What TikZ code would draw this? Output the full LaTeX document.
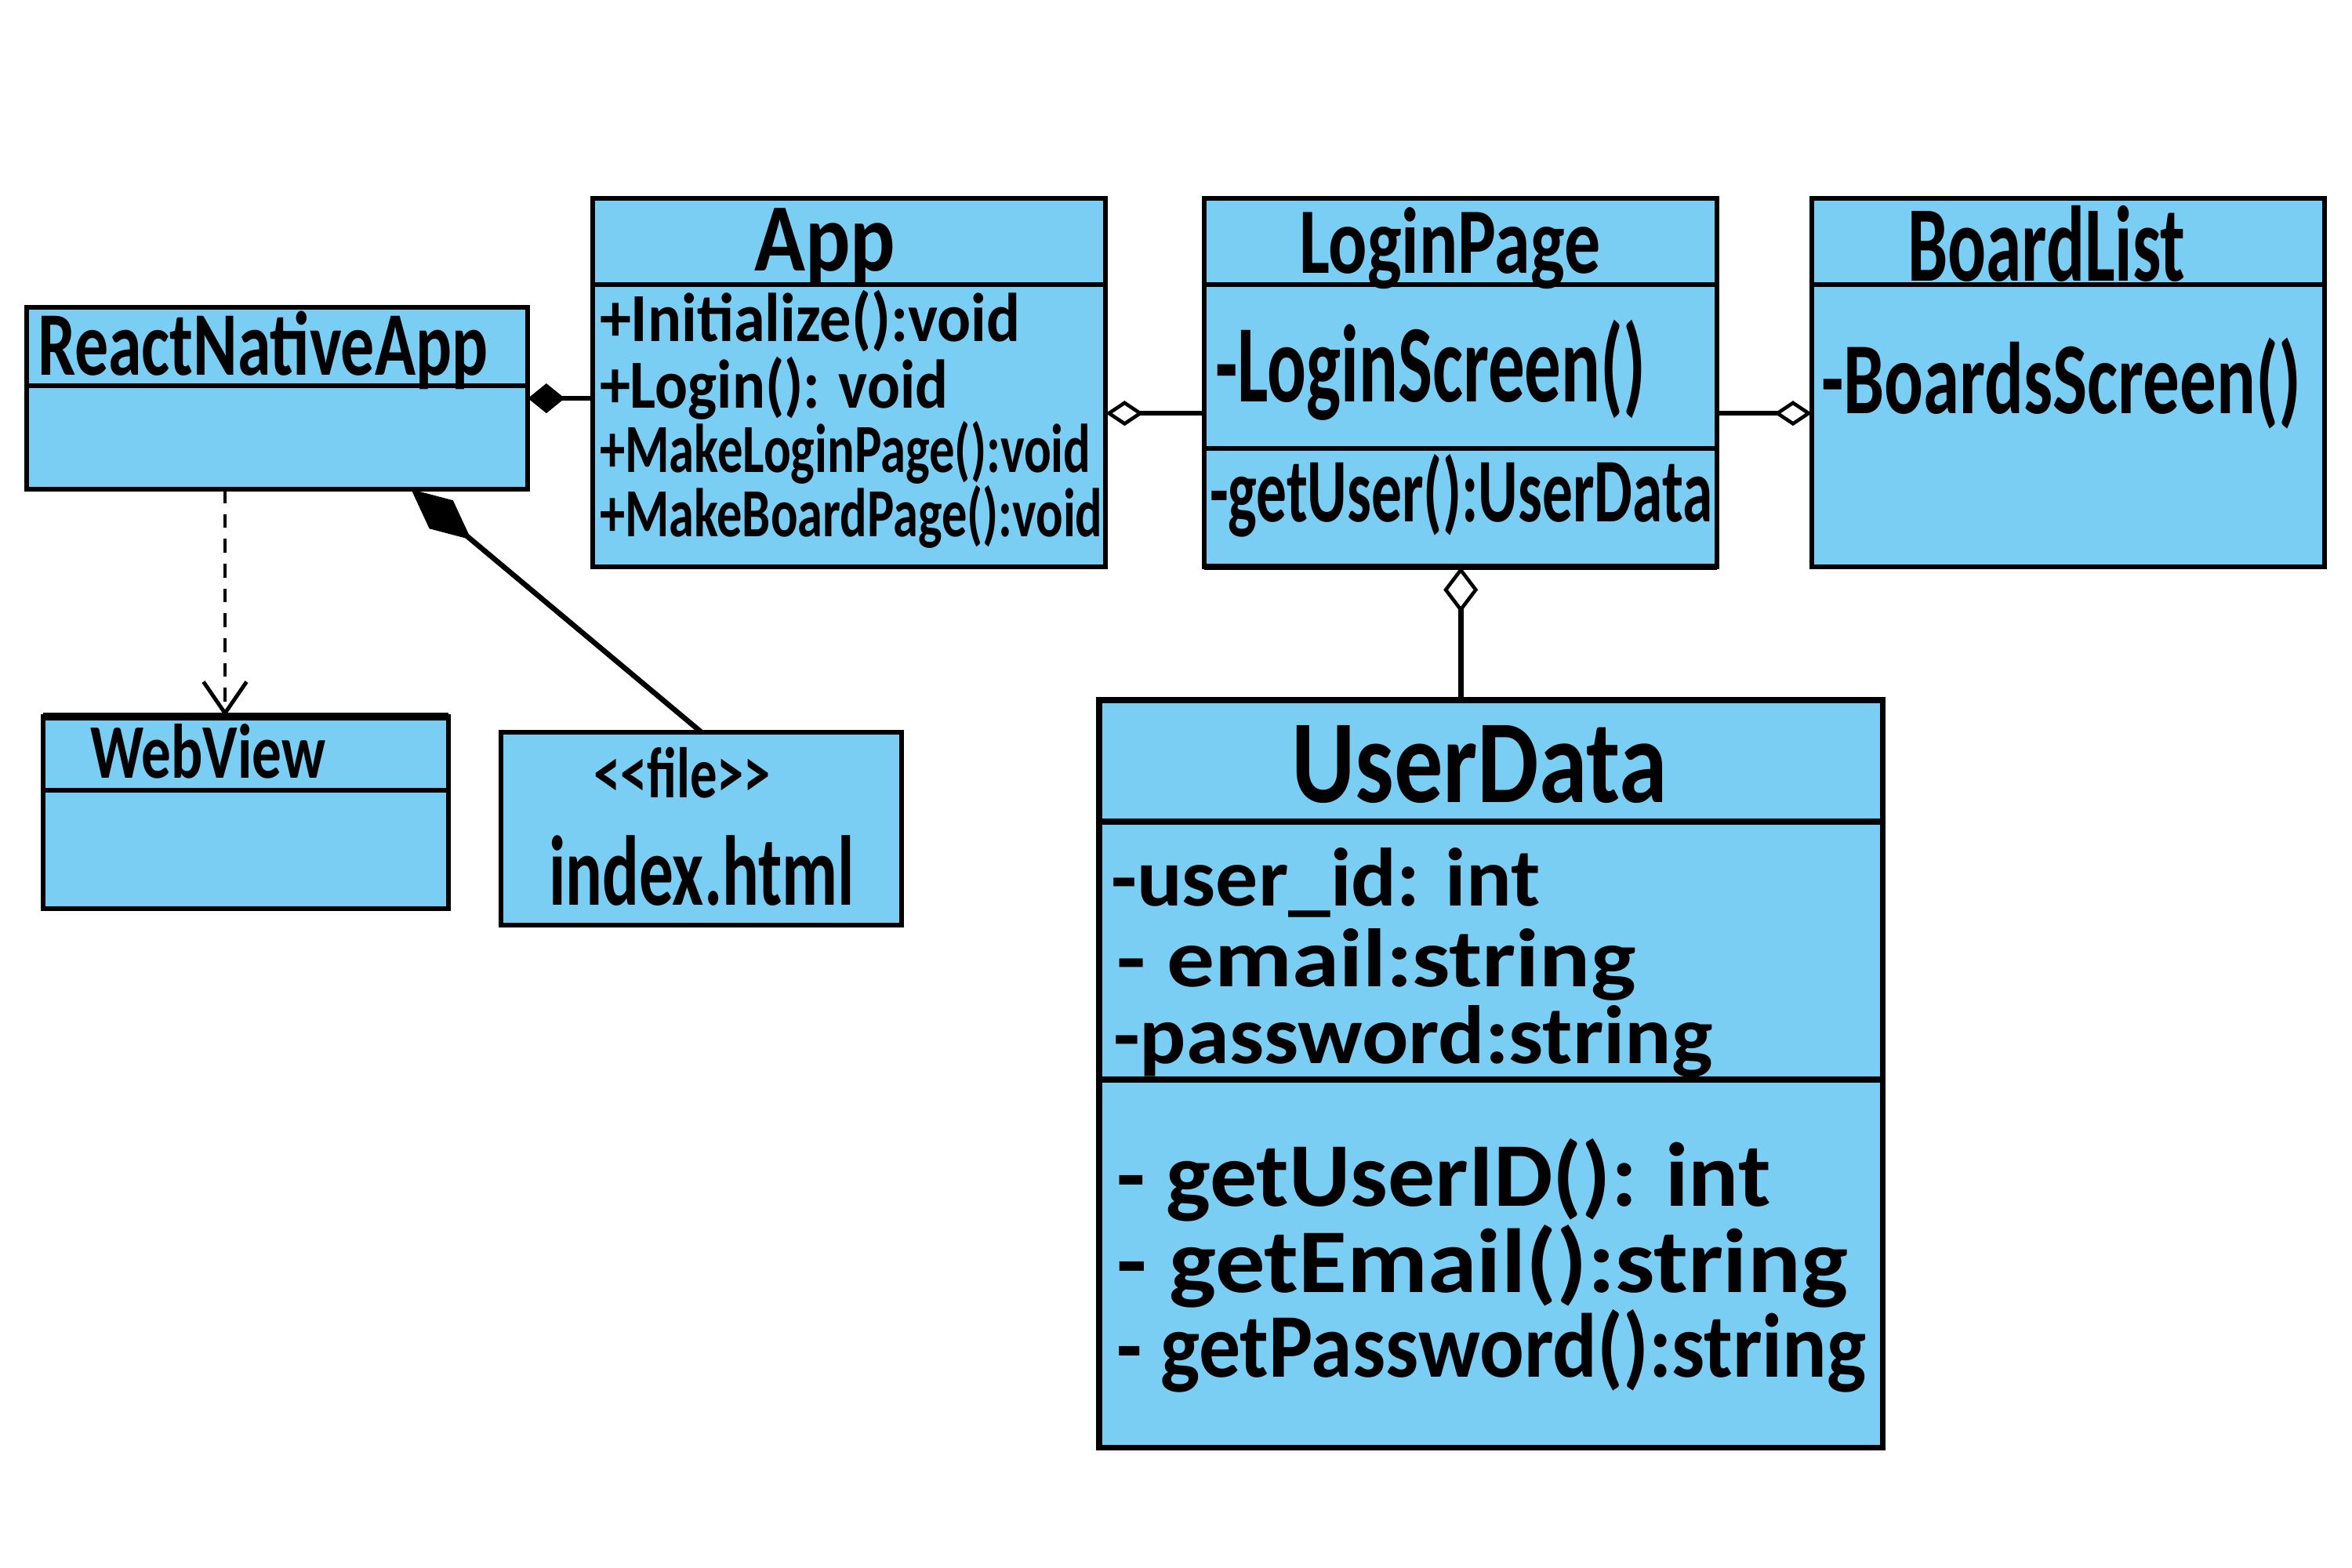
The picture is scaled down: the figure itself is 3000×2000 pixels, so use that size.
\documentclass[tikz,border=0pt]{standalone}
\usepackage{fontspec}
\usepackage{graphicx}
\setmainfont{Carlito}
\usetikzlibrary{arrows.meta,calc}
\definecolor{boxblue}{RGB}{122,206,244}
\newcommand\hw[2]{\resizebox{#1}{\height}{#2}}
\newcommand\fsz[1]{\fontsize{#1}{#1}\bfseries\selectfont}
\begin{document}
\begin{tikzpicture}[x=0.01cm,y=-0.01cm,
  classbox/.style={draw=black, fill=boxblue, line width=1.7pt, anchor=north west, inner sep=0pt, outer sep=0pt},
  divider/.style={line width=1.7pt},
  txt/.style={anchor=base west, inner sep=0pt, outer sep=0pt},
  assoc/.style={line width=1.9pt},
  aggr/.style={assoc, -{Diamond[fill=white, length=0.48cm, width=0.32cm, line width=1.3pt]}},
  aggrbig/.style={assoc, -{Diamond[fill=white, length=0.58cm, width=0.44cm, line width=1.3pt]}},
  compo/.style={assoc, -{Diamond[length=0.47cm, width=0.38cm]}},
  compobig/.style={assoc, -{Diamond[length=1.0cm, width=0.47cm]}},
  dep/.style={line width=0.9pt, dash pattern=on 5pt off 4pt, -{Straight Barb[length=0.4cm, width=0.55cm, line width=1.4pt]}}
]
\useasboundingbox (0,0) rectangle (3000,2000);

% class boxes
\node[classbox, minimum width=6.39cm, minimum height=2.32cm] (rna) at (34,392) {};
\node[classbox, minimum width=6.54cm, minimum height=4.70cm] (app) at (756,253) {};
\node[classbox, minimum width=6.54cm, minimum height=4.70cm] (login) at (1536,253) {};
\node[classbox, minimum width=6.54cm, minimum height=4.70cm] (board) at (2311,253) {};
\node[classbox, minimum width=5.17cm, minimum height=2.45cm] (web) at (55,914) {};
\node[classbox, minimum width=5.11cm, minimum height=2.46cm] (idx) at (639,934) {};
\node[classbox, line width=2.2pt, minimum width=9.99cm, minimum height=9.53cm] (ud) at (1402,893) {};

% dividers
\draw[divider] ($(rna.north west)+(0,100)$) -- ($(rna.north east)+(0,100)$);
\draw[divider] ($(app.north west)+(0,110)$) -- ($(app.north east)+(0,110)$);
\draw[divider] ($(login.north west)+(0,110)$) -- ($(login.north east)+(0,110)$);
\draw[divider] ($(login.north west)+(0,319)$) -- ($(login.north east)+(0,319)$);
\draw[line width=2.4pt] (login.south west) -- (login.south east);
\draw[divider] ($(board.north west)+(0,110)$) -- ($(board.north east)+(0,110)$);
\draw[divider] ($(web.north west)+(0,94)$) -- ($(web.north east)+(0,94)$);
\draw[line width=2.6pt] (web.north west) -- (web.north east);
\draw[line width=2.2pt] ($(ud.north west)+(0,155)$) -- ($(ud.north east)+(0,155)$);
\draw[line width=2.2pt] ($(ud.north west)+(0,484)$) -- ($(ud.north east)+(0,484)$);

% texts
\node[txt, font=\fsz{33pt}] (trna) at (48,478) {\hw{5.74cm}{ReactNativeApp}};
\node[txt, font=\fsz{35pt}] (tapp) at (962,345) {\hw{1.80cm}{App}};
\node[txt, font=\fsz{25pt}] (am1) at (765,435) {\hw{5.36cm}{+Initialize():void}};
\node[txt, font=\fsz{25pt}] (am2) at (765,520) {\hw{4.44cm}{+Login(): void}};
\node[txt, font=\fsz{25pt}] (am3) at (765,602) {\hw{6.26cm}{+MakeLoginPage():void}};
\node[txt, font=\fsz{25pt}] (am4) at (765,684) {\hw{6.41cm}{+MakeBoardPage():void}};
\node[txt, font=\fsz{34pt}] (tlogin) at (1657,348) {\hw{3.84cm}{LoginPage}};
\node[txt, font=\fsz{40pt}] (lm1) at (1550,512) {\hw{5.49cm}{-LoginScreen()}};
\node[txt, font=\fsz{33pt}] (lm2) at (1543,665) {\hw{6.41cm}{-getUser():UserData}};
\node[txt, font=\fsz{39pt}] (tboard) at (2433,358) {\hw{3.54cm}{BoardList}};
\node[txt, font=\fsz{37pt}] (bm1) at (2323,527) {\hw{6.12cm}{-BoardsScreen()}};
\node[txt, font=\fsz{28pt}] (tweb) at (115,992) {\hw{3.00cm}{WebView}};
\node[txt, font=\fsz{26pt}] (tster) at (757,1017) {\hw{2.26cm}{\textless\kern0pt\textless file\textgreater\kern0pt\textgreater}};
\node[txt, font=\fsz{36pt}] (tidx) at (700,1154) {\hw{3.90cm}{index.html}};
\node[txt, font=\fsz{43pt}] (tud) at (1647,1023) {\hw{4.80cm}{UserData}};
\node[txt, font=\fsz{30pt}] (ua1) at (1417,1155) {\hw{5.47cm}{-user\_id: int}};
\node[txt, font=\fsz{30pt}] (ua2) at (1424,1258) {\hw{6.62cm}{- email:string}};
\node[txt, font=\fsz{30pt}] (ua3) at (1420,1356) {\hw{7.64cm}{-password:string}};
\node[txt, font=\fsz{33pt}] (um1) at (1424,1538) {\hw{8.34cm}{- getUserID(): int}};
\node[txt, font=\fsz{33pt}] (um2) at (1424,1648) {\hw{9.32cm}{- getEmail():string}};
\node[txt, font=\fsz{33pt}] (um3) at (1424,1756) {\hw{9.56cm}{- getPassword():string}};

% connectors
\draw[compo] (app.west |- rna.east) -- (rna.east);
\coordinate (a1) at ($(login.west)+(0,39)$);
\draw[aggr] (a1) -- (app.east |- a1);
\coordinate (a2) at ($(login.east)+(0,39)$);
\draw[aggr] (a2) -- (board.west |- a2);
\draw[aggrbig] (login.south |- ud.north) -- (login.south);
\coordinate (c2) at ($(rna.south east)+(-149,0)$);
\draw[compobig] (idx.north) -- (c2);
\coordinate (d1) at ($(rna.south west)+(253,0)$);
\draw[dep] (d1) -- (d1 |- web.north);
\end{tikzpicture}
\end{document}
